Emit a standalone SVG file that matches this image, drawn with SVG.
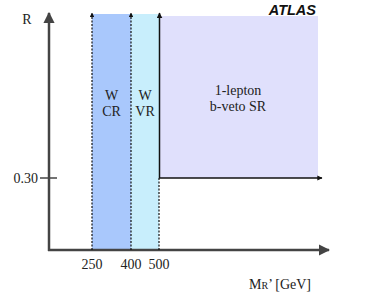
<svg xmlns="http://www.w3.org/2000/svg" width="390" height="293" viewBox="0 0 390 293">
<style>
.t{font-family:'Liberation Serif','Times New Roman','DejaVu Serif',serif;font-size:14px;fill:#222}
.dot{stroke:#111;stroke-width:1.2;stroke-dasharray:2,1.5;fill:none}
.ax{stroke:#444;stroke-width:2.5;fill:none}
</style>
<defs>
<marker id="ah" viewBox="0 0 10 10" refX="9" refY="5" markerWidth="4" markerHeight="4" orient="auto"><path d="M0,0L10,5L0,10z" fill="#111"/></marker>
<marker id="axh" viewBox="0 0 10 10" refX="9" refY="5" markerWidth="4.5" markerHeight="4.5" orient="auto"><path d="M0,0L10,5L0,10z" fill="#444"/></marker>
</defs>
<g id="regions">
<rect id="wcr" x="92" y="14" width="39" height="236" fill="#a9c8fc"/>
<rect id="wvr" x="131" y="14" width="28" height="236" fill="#c8eefc"/>
<rect id="sr" x="160" y="16" width="158" height="162" fill="#e0e0fc"/>
</g>
<g id="connectors">
<line class="ax" x1="49" y1="251" x2="49" y2="13" marker-end="url(#axh)"/>
<line class="ax" x1="48" y1="250" x2="329" y2="250" marker-end="url(#axh)"/>
<line class="dot" x1="92" y1="250" x2="92" y2="13" marker-end="url(#ah)"/>
<line class="dot" x1="131" y1="250" x2="131" y2="13" marker-end="url(#ah)"/>
<line class="dot" x1="159" y1="250" x2="159" y2="178"/>
<line stroke="#111" stroke-width="1.5" x1="159.5" y1="178" x2="159.5" y2="13" marker-end="url(#ah)"/>
<line stroke="#111" stroke-width="1.3" x1="159" y1="178" x2="322" y2="178" marker-end="url(#ah)"/>
<line stroke="#444" stroke-width="1.5" x1="40" y1="178" x2="57" y2="178"/>
</g>
<g id="labels">
<text class="t" x="27" y="24" text-anchor="middle">R</text>
<text x="316" y="15" text-anchor="end" font-family="'Liberation Sans',Arial,sans-serif" font-size="14.5" font-weight="bold" font-style="italic" fill="#111">ATLAS</text>
<text class="t" x="111.5" y="100" text-anchor="middle">W</text>
<text class="t" x="111.5" y="116" text-anchor="middle">CR</text>
<text class="t" x="145" y="100" text-anchor="middle">W</text>
<text class="t" x="145" y="116" text-anchor="middle">VR</text>
<text class="t" x="238" y="95" text-anchor="middle">1-lepton</text>
<text class="t" x="238" y="111" text-anchor="middle">b-veto SR</text>
<text class="t" x="38" y="183" text-anchor="end">0.30</text>
<text class="t" x="92" y="269" text-anchor="middle">250</text>
<text class="t" x="131" y="269" text-anchor="middle">400</text>
<text class="t" x="159" y="269" text-anchor="middle">500</text>
<text class="t" x="249" y="289">M<tspan font-size="10">R</tspan>’ [GeV]</text>
</g>
</svg>
